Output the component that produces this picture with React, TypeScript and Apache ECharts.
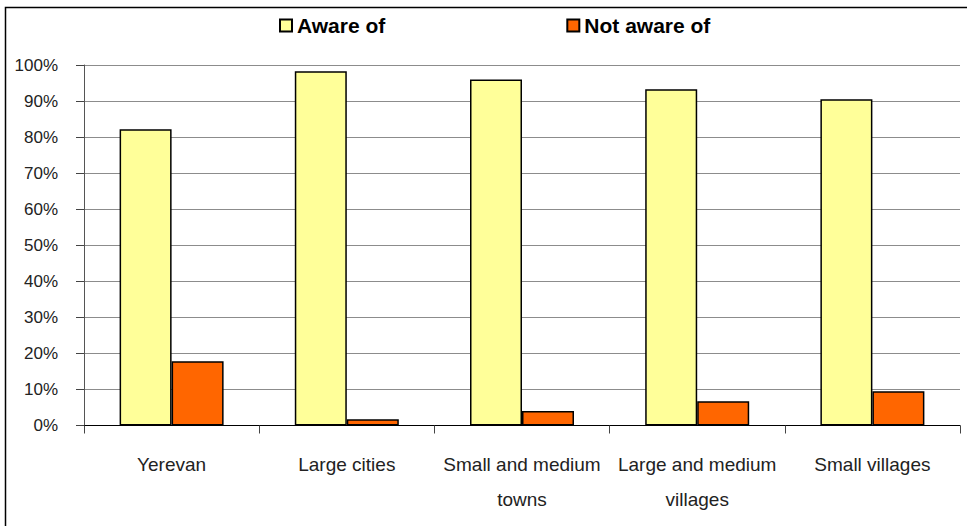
import React, { useEffect, useRef } from "react";
import * as echarts from "echarts";

const categories = [
  "Yerevan",
  "Large cities",
  "Small and medium\ntowns",
  "Large and medium\nvillages",
  "Small villages",
];
const awareOf = [82.2, 98.3, 96.0, 93.3, 90.5];
const notAwareOf = [17.8, 1.7, 4.0, 6.7, 9.5];
const seriesNames = ["Aware of", "Not aware of"];

export default function App() {
  const ref = useRef<HTMLDivElement>(null);
  useEffect(() => {
    if (!ref.current) return;
    const chart = echarts.init(ref.current, undefined, { renderer: "svg" });
    const font = "'Liberation Sans', Arial, sans-serif";
    chart.setOption({
      animation: false,
      backgroundColor: "#ffffff",
      textStyle: { fontFamily: font },
      graphic: [
        {
          type: "rect",
          left: 3,
          top: 5,
          shape: { width: 1100, height: 700 },
          style: { fill: "none", stroke: "#000", lineWidth: 1.5 },
          silent: true,
          z: 100,
        },
      ],
      legend: {
        data: seriesNames,
        left: 274,
        top: 10,
        icon: "rect",
        itemWidth: 12,
        itemHeight: 12,
        itemGap: 181,
        textStyle: {
          fontFamily: font,
          fontSize: 21,
          fontWeight: "bold",
          color: "#000",
        },
      },
      grid: { left: 84, right: 7, top: 65, bottom: 100.5, containLabel: false },
      xAxis: {
        type: "category",
        data: categories,
        axisLine: { show: true, lineStyle: { color: "#000", width: 1 } },
        axisTick: { show: true, length: 8, lineStyle: { color: "#444" } },
        axisLabel: {
          fontFamily: font,
          fontSize: 19,
          color: "#222",
          margin: 21,
          lineHeight: 35,
          interval: 0,
        },
      },
      yAxis: {
        type: "value",
        min: 0,
        max: 100,
        interval: 10,
        axisLine: { show: true, lineStyle: { color: "#555", width: 1 } },
        axisTick: { show: true, length: 8, lineStyle: { color: "#444" } },
        axisLabel: {
          fontFamily: font,
          fontSize: 17,
          color: "#222",
          margin: 26,
          formatter: "{value}%",
        },
        splitLine: { show: true, lineStyle: { color: "#8c8c8c", width: 1 } },
      },
      series: [
        {
          name: seriesNames[0],
          type: "bar",
          data: awareOf,
          barWidth: 52,
          barGap: "0%",
          itemStyle: { color: "#FFFF99", borderColor: "#000", borderWidth: 1.5 },
        },
        {
          name: seriesNames[1],
          type: "bar",
          data: notAwareOf,
          barWidth: 52,
          barGap: "0%",
          itemStyle: { color: "#FF6600", borderColor: "#000", borderWidth: 1.5 },
        },
      ],
    });
    return () => chart.dispose();
  }, []);
  return (
    <div
      ref={ref}
      style={{ position: "fixed", left: 0, top: 0, width: 967, height: 526 }}
    />
  );
}
